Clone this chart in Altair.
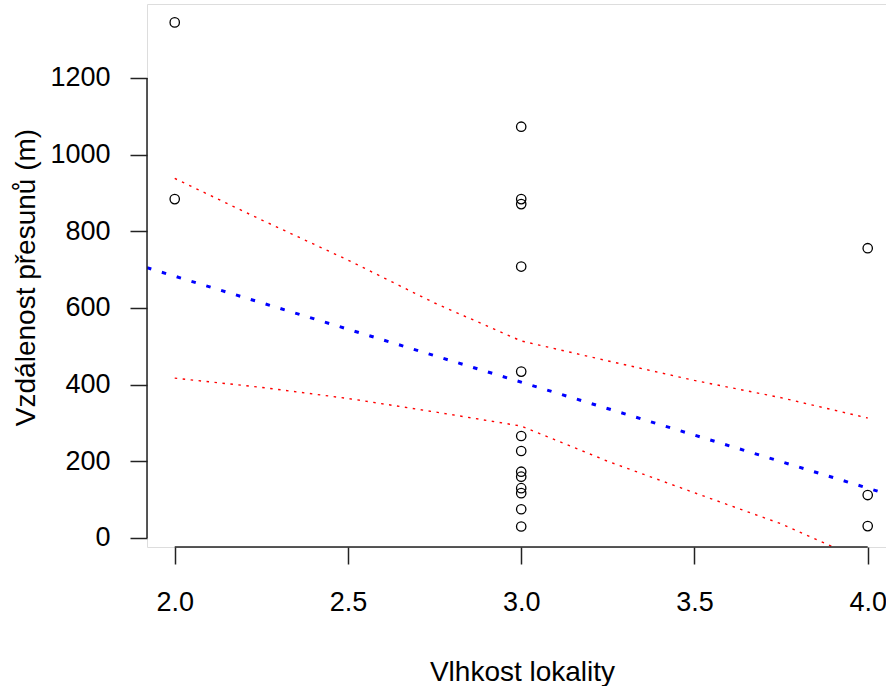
import altair as alt
import pandas as pd

# observed points
pts_x = [2, 2, 3, 3, 3, 3, 3, 3, 3, 3, 3, 3, 3, 3, 3, 4, 4, 4]
pts_y = [1345, 884, 1073, 884, 871, 708, 434, 266, 227, 173, 160, 130, 117, 75, 30, 756, 112, 31]

# regression line (abline across plot)
fit_x = [1.92, 4.08]
fit_y = [705, 108]

# confidence band
band_x = [2.0, 2.25, 2.5, 2.75, 3.0, 3.25, 3.5, 3.75, 4.0]
upper_y = [938, 830, 725, 613, 514, 462, 411, 366, 313]
lower_y = [417, 393, 364, 329, 292, 200, 118, 37, -63]

y_ticks = [0, 200, 400, 600, 800, 1000, 1200]
x_ticks = [2.0, 2.5, 3.0, 3.5, 4.0]

X_DOMAIN = [1.92, 4.0528]
Y_DOMAIN = [-23.5, 1393]
W, H = 739, 543
FONT = "Liberation Sans"
AXC = "#222222"

pts = pd.DataFrame({"x": pts_x, "y": pts_y})
fit = pd.DataFrame({"x": fit_x, "y": fit_y})
up = pd.DataFrame({"x": band_x, "y": upper_y})
lo = pd.DataFrame({"x": band_x, "y": lower_y})

xs = alt.Scale(domain=X_DOMAIN, nice=False, zero=False)
ys = alt.Scale(domain=Y_DOMAIN, nice=False, zero=False)

x_axis = alt.Axis(
    values=x_ticks, format=".1f", domain=False, grid=False,
    tickSize=17, tickWidth=1.5, tickColor=AXC,
    labelFont=FONT, labelFontSize=27, labelColor="#000", labelPadding=25,
    title="Vlhkost lokality", titleFont=FONT, titleFontSize=28,
    titleFontWeight="normal", titleColor="#000",
    titleBaseline="alphabetic", titleY=133, titleX=375, titleAnchor="start", titleAlign="center",
)
y_axis = alt.Axis(
    values=y_ticks, format="d", domain=False, grid=False,
    tickSize=17, tickWidth=1.5, tickColor=AXC,
    labelFont=FONT, labelFontSize=27, labelColor="#000", labelPadding=20,
    labelBaseline="middle",
    title="Vzdálenost přesunů (m)", titleFont=FONT, titleFontSize=28,
    titleFontWeight="normal", titleColor="#000", titleAngle=-90,
    titleBaseline="alphabetic", titleAlign="center", titleX=-113, titleY=273,
    titleAnchor="start",
)

points = alt.Chart(pts).mark_point(
    shape="circle", filled=False, size=88, stroke="black", strokeWidth=1.3, opacity=1
).encode(
    x=alt.X("x:Q", scale=xs, axis=x_axis),
    y=alt.Y("y:Q", scale=ys, axis=y_axis),
)

fit_line = alt.Chart(fit).mark_line(
    color="#0000FF", strokeWidth=3, strokeDash=[4.5, 11], clip=True
).encode(x=alt.X("x:Q", scale=xs), y=alt.Y("y:Q", scale=ys))

up_line = alt.Chart(up).mark_line(
    color="#FF0000", strokeWidth=1.4, strokeDash=[2.5, 5.5], clip=True
).encode(x=alt.X("x:Q", scale=xs), y=alt.Y("y:Q", scale=ys))

lo_line = alt.Chart(lo).mark_line(
    color="#FF0000", strokeWidth=1.4, strokeDash=[2.5, 5.5], clip=True
).encode(x=alt.X("x:Q", scale=xs), y=alt.Y("y:Q", scale=ys))

yrule = alt.Chart(pd.DataFrame({"a": [y_ticks[0]], "b": [y_ticks[-1]]})).mark_rule(
    color=AXC, strokeWidth=1.5
).encode(x=alt.value(0), y=alt.Y("a:Q", scale=ys), y2="b:Q")

xrule = alt.Chart(pd.DataFrame({"a": [x_ticks[0]], "b": [x_ticks[-1]]})).mark_rule(
    color=AXC, strokeWidth=1.5
).encode(y=alt.value(H), x=alt.X("a:Q", scale=xs), x2="b:Q")

chart = alt.layer(up_line, lo_line, fit_line, points, yrule, xrule).properties(
    width=W, height=H,
    autosize=alt.AutoSizeParams(type="none"),
    padding={"left": 147, "top": 4, "right": 0, "bottom": 139},
).configure_view(stroke=None).configure(background="white")

chart.save("out.html", embed_options={"renderer": "svg", "actions": False})
